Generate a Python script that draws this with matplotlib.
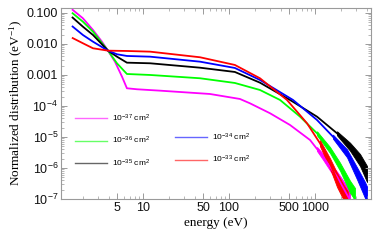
import numpy as np
import matplotlib
matplotlib.use("Agg")
import matplotlib.pyplot as plt
from matplotlib.ticker import FixedLocator, FixedFormatter, NullFormatter
from matplotlib.lines import Line2D

plt.rcParams['font.family'] = ['Liberation Sans', 'DejaVu Sans']
plt.rcParams['mathtext.fontset'] = 'custom'
plt.rcParams['mathtext.rm'] = 'Liberation Sans'
plt.rcParams['mathtext.it'] = 'Liberation Sans:italic'
plt.rcParams['mathtext.default'] = 'regular'

# ---- data, values given as log10 ----
labels = [r"$10^{-37}$ cm$^2$", r"$10^{-36}$ cm$^2$", r"$10^{-35}$ cm$^2$",
          r"$10^{-34}$ cm$^2$", r"$10^{-33}$ cm$^2$"]
colors = ["#ff00ff", "#00ff00", "#000000", "#0000ff", "#ff0000"]

e_m37 = [1.49, 2.0, 2.62, 3.33, 3.92, 4.72, 5.7, 6.5, 8.5, 15.8, 60, 134, 175, 300, 512, 875, 1239, 1803, 2552]
lv_m37 = [-0.88, -1.171, -1.548, -1.926, -2.216, -2.571, -3.055, -3.429, -3.461, -3.506, -3.613,
          -3.774, -3.913, -4.235, -4.613, -5.097, -5.635, -6.281, -7.03]

e_m36 = [1.49, 2.0, 2.62, 3.92, 4.98, 6.5, 12.1, 46, 117, 229, 392, 670, 1055, 1493, 1953, 2552, 2917]
lv_m36 = [-0.99, -1.281, -1.603, -2.216, -2.623, -2.968, -3.0, -3.106, -3.258, -3.484, -3.806,
          -4.345, -4.881, -5.419, -5.958, -6.603, -7.03]

e_m35 = [1.49, 2.0, 2.62, 3.92, 4.98, 6.5, 12.1, 46, 117, 229, 512, 1055, 1803, 2552, 3335, 4025]
lv_m35 = [-1.129, -1.442, -1.71, -2.216, -2.41, -2.603, -2.623, -2.765, -2.903, -3.248, -3.806,
          -4.345, -4.881, -5.313, -5.742, -6.19]

e_m34 = [1.49, 2.0, 2.62, 3.92, 4.98, 6.5, 12.1, 46, 117, 229, 555, 1055, 1618, 2355, 3076, 3811, 4025]
lv_m34 = [-1.419, -1.71, -1.926, -2.216, -2.332, -2.387, -2.41, -2.571, -2.774, -3.161, -3.806,
          -4.452, -4.99, -5.526, -6.171, -6.816, -7.03]

e_m33 = [1.49, 2.0, 2.62, 3.92, 6.5, 12.1, 46, 117, 229, 472, 807, 1143, 1493, 1803, 2150, 2400]
lv_m33 = [-1.797, -1.977, -2.139, -2.216, -2.226, -2.248, -2.429, -2.677, -3.106, -3.806, -4.558,
          -5.203, -5.848, -6.387, -6.85, -7.03]

# noisy high-energy tails: energies, upper and lower envelopes (log10)
te_m37 = [1055, 1239, 1618, 1803, 2220, 2552]
thi_m37 = [-5.323, -5.539, -5.968, -6.119, -6.484, -6.774]
tlo_m37 = [-5.452, -5.732, -6.226, -6.442, -6.871, -7.03]

te_m36 = [1055, 1493, 1953, 2552, 2917]
thi_m36 = [-4.816, -5.323, -5.829, -6.410, -6.645]
tlo_m36 = [-4.946, -5.516, -6.087, -6.797, -7.03]

te_m35 = [1803, 2552, 3335, 4025]
thi_m35 = [-4.816, -5.184, -5.548, -5.935]
tlo_m35 = [-4.946, -5.442, -5.935, -6.452]

te_m34 = [1618, 2355, 3076, 3811, 4025]
thi_m34 = [-4.925, -5.397, -5.977, -6.452, -6.6]
tlo_m34 = [-5.055, -5.655, -6.365, -6.968, -7.03]

te_m33 = [1143, 1493, 1803, 2150, 2400]
thi_m33 = [-5.106, -5.687, -6.161, -6.55, -6.75]
tlo_m33 = [-5.300, -6.010, -6.613, -7.03, -7.03]

energies = [e_m37, e_m36, e_m35, e_m34, e_m33]
logvals = [lv_m37, lv_m36, lv_m35, lv_m34, lv_m33]
tails = [(te_m37, thi_m37, tlo_m37), (te_m36, thi_m36, tlo_m36), (te_m35, thi_m35, tlo_m35),
         (te_m34, thi_m34, tlo_m34), (te_m33, thi_m33, tlo_m33)]

xticks_major = [5, 10, 50, 100, 500, 1000]
xtick_labels = ["5", "10", "50", "100", "500", "1000"]
yticks_major = [1e-7, 1e-6, 1e-5, 1e-4, 1e-3, 1e-2, 1e-1]
ytick_labels = [r"$10^{-7}$", r"$10^{-6}$", r"$10^{-5}$", r"$10^{-4}$", "0.001", "0.010", "0.100"]

# ---- figure ----
fig = plt.figure(figsize=(3.74, 2.44), dpi=100)
ax = fig.add_axes([61/374, 1-199/244, 310/374, 191.5/244])
ax.set_xscale('log')
ax.set_yscale('log')

for e, lv, (te, thi, tlo), c in zip(energies, logvals, tails, colors):
    ax.plot(e, 10**np.array(lv), color=c, lw=1.3, solid_joinstyle='round', solid_capstyle='butt')
    ax.fill_between(te, 10**np.array(tlo), 10**np.array(thi), color=c, lw=0.6, edgecolor=c)

ax.set_xlim(1.113, 4477)
ax.set_ylim(1e-7, 0.150)

frame_col = "#9a9a9a"
for s in ax.spines.values():
    s.set_color(frame_col)
    s.set_linewidth(0.8)

ax.xaxis.set_major_locator(FixedLocator(xticks_major))
ax.xaxis.set_major_formatter(FixedFormatter(xtick_labels))
xminor = [m * 10**k for k in range(0, 4) for m in range(1, 10)]
xminor = [t for t in xminor if t not in xticks_major]
ax.xaxis.set_minor_locator(FixedLocator(xminor))
ax.xaxis.set_minor_formatter(NullFormatter())

ax.yaxis.set_major_locator(FixedLocator(yticks_major))
ax.yaxis.set_major_formatter(FixedFormatter(ytick_labels))
yminor = [m * 10.0**k for k in range(-7, 0) for m in range(2, 10)]
ax.yaxis.set_minor_locator(FixedLocator(yminor))
ax.yaxis.set_minor_formatter(NullFormatter())

ax.tick_params(which='both', direction='in', top=True, right=True, color=frame_col,
               labelsize=9, labelcolor='#111111', pad=2)
ax.tick_params(which='major', length=4, width=0.7)
ax.tick_params(which='minor', length=2, width=0.5)

ax.set_xlabel("energy (eV)", family=['Liberation Serif'], fontsize=9.5, labelpad=2)
ax.set_ylabel(r"Normalized distribution (eV$^{-1}$)", family=['Liberation Serif'], fontsize=9.5, labelpad=1)

handles = [Line2D([], [], color=c, lw=1.0, alpha=0.6) for c in colors]
h_left = handles[:3]
h_right = [Line2D([], [], color='none')] + handles[3:]
kw = dict(loc='upper left', frameon=False, fontsize=6, handlelength=3.8, labelspacing=1.35,
          handletextpad=0.6, borderpad=0)
leg1 = ax.legend(h_left, labels[:3], bbox_to_anchor=(0.033, 0.475), **kw)
ax.add_artist(leg1)
ax.legend(h_right, [""] + labels[3:], bbox_to_anchor=(0.355, 0.475), **kw)

fig.savefig("out.png", dpi=100)
